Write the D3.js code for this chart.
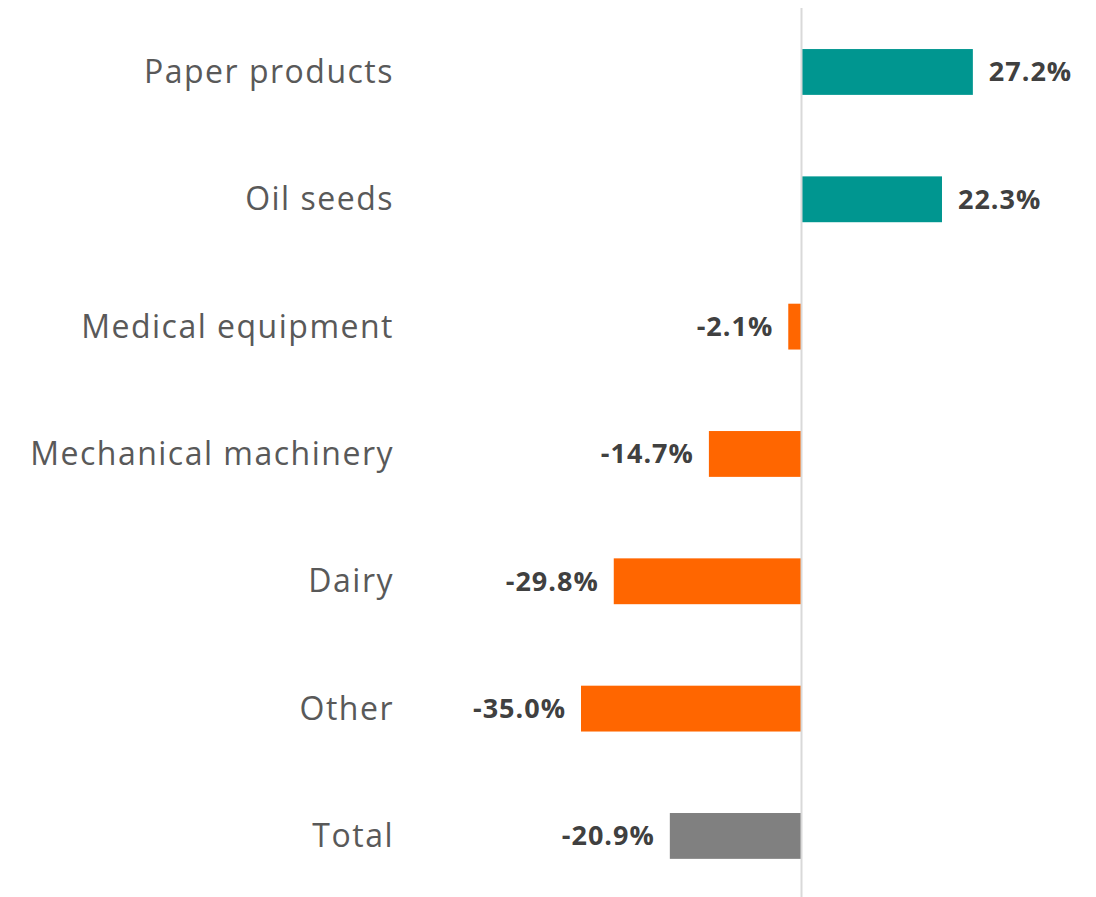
<!DOCTYPE html>
<html>
<head>
<meta charset="utf-8">
<script src="https://cdn.jsdelivr.net/npm/d3@7"></script>
<style>
  body { margin: 0; background: #fff; }
  svg { display: block; }
</style>
</head>
<body>
<div id="chart"></div>
<script>
// Chart data
const categories = ["Paper products", "Oil seeds", "Medical equipment", "Mechanical machinery", "Dairy", "Other", "Total"];
const values = [27.2, 22.3, -2.1, -14.7, -29.8, -35.0, -20.9];
const barColors = ["#009690", "#009690", "#ff6600", "#ff6600", "#ff6600", "#ff6600", "#808080"];

const width = 1096;
const height = 897;

const svg = d3.select("#chart").append("svg")
    .attr("width", width)
    .attr("height", height);

const data = categories.map((c, i) => ({ name: c, value: values[i], color: barColors[i] }));

// x(0) sits at ~801.5, about 6.3px per percent
const x = d3.scaleLinear()
    .domain([-40, 45])
    .range([549.5, 1085]);

const y = d3.scaleBand()
    .domain(categories)
    .range([8.3, 899.6])
    .paddingInner(0.64)
    .paddingOuter(0.32);

// Bars
svg.selectAll("rect.bar")
    .data(data)
    .enter()
    .append("rect")
    .attr("class", "bar")
    .attr("x", d => x(Math.min(0, d.value)))
    .attr("y", d => y(d.name))
    .attr("width", d => Math.abs(x(d.value) - x(0)))
    .attr("height", y.bandwidth())
    .attr("fill", d => d.color);

// Zero line
svg.append("line")
    .attr("x1", x(0))
    .attr("x2", x(0))
    .attr("y1", 8)
    .attr("y2", height)
    .attr("stroke", "#d9d9d9")
    .attr("stroke-width", 2);

// Category labels
svg.selectAll("text.cat")
    .data(data)
    .enter()
    .append("text")
    .attr("class", "cat")
    .attr("x", 394)
    .attr("y", d => y(d.name) + y.bandwidth() / 2)
    .attr("dy", "0.35em")
    .attr("text-anchor", "end")
    .attr("font-family", "'Open Sans', sans-serif")
    .attr("font-size", "32px")
    .attr("letter-spacing", "1.5px")
    .attr("fill", "#595959")
    .text(d => d.name);

// Value labels
svg.selectAll("text.val")
    .data(data)
    .enter()
    .append("text")
    .attr("class", "val")
    .attr("x", d => d.value >= 0 ? x(d.value) + 16 : x(d.value) - 15)
    .attr("y", d => y(d.name) + y.bandwidth() / 2)
    .attr("dy", "0.35em")
    .attr("text-anchor", d => d.value >= 0 ? "start" : "end")
    .attr("font-family", "'Open Sans', sans-serif")
    .attr("font-weight", "bold")
    .attr("font-size", "27px")
    .attr("letter-spacing", "1px")
    .attr("fill", "#404040")
    .text(d => d.value.toFixed(1) + "%");
</script>
</body>
</html>
